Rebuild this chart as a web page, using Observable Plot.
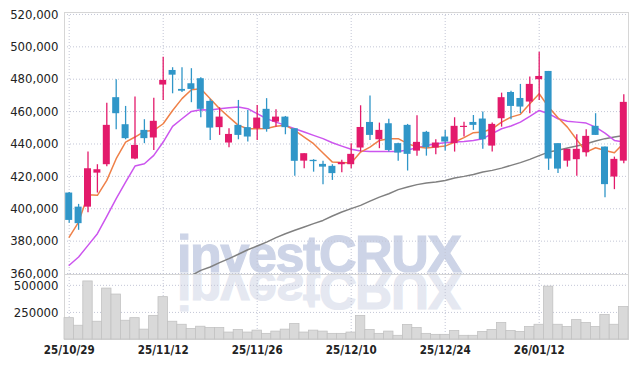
<!DOCTYPE html>
<html>
<head>
<meta charset="utf-8">
<script src="https://cdn.jsdelivr.net/npm/d3@7"></script>
<script src="https://cdn.jsdelivr.net/npm/@observablehq/plot@0.6"></script>
<style>
  html, body { margin: 0; padding: 0; background: #ffffff; }
  #wrap { position: relative; width: 638px; height: 368px; overflow: hidden; background: #ffffff; }
  #wrap > svg, #wrap > div { position: absolute; left: 0; }
  #wm { top: 0; }
  #price { top: 0; }
  #vol { top: 274px; }
  .wmtext { font-family: "Liberation Sans", Arial, sans-serif; font-weight: bold; font-size: 52px; letter-spacing: -1.4px; stroke-width: 1.2px; }
  #vol g[aria-label="x-axis tick label"] text, #vol g[aria-label="x-axis"] text { font-weight: bold; font-size: 11.5px; }
</style>
</head>
<body>
<div id="wrap">
  <svg id="wm" width="638" height="368">
    <text class="wmtext" x="177" y="272" fill="#cdd4e7" stroke="#cdd4e7">investCRUX</text>
    <text class="wmtext" x="177" y="272" fill="#e5e8f1" stroke="#e5e8f1" transform="translate(0,545) scale(1,-1)">investCRUX</text>
  </svg>
  <div id="price"></div>
  <div id="vol"></div>
</div>
<script>
const dates = [
  "25/10/29","25/10/30","25/10/31","25/11/03","25/11/04","25/11/05","25/11/06","25/11/07","25/11/10","25/11/11",
  "25/11/12","25/11/13","25/11/14","25/11/17","25/11/18","25/11/19","25/11/20","25/11/21","25/11/24","25/11/25",
  "25/11/26","25/11/27","25/11/28","25/12/01","25/12/02","25/12/03","25/12/04","25/12/05","25/12/08","25/12/09",
  "25/12/10","25/12/11","25/12/12","25/12/15","25/12/16","25/12/17","25/12/18","25/12/19","25/12/22","25/12/23",
  "25/12/24","25/12/26","25/12/29","25/12/30","26/01/02","26/01/05","26/01/06","26/01/07","26/01/08","26/01/09",
  "26/01/12","26/01/13","26/01/14","26/01/15","26/01/16","26/01/19","26/01/20","26/01/21","26/01/22","26/01/23"
];
const open = [
  409700,401000,401000,422000,427200,468600,451900,430700,448400,443700,
  476400,485400,473700,477200,480300,466300,450100,440600,451500,450100,
  449400,461400,453500,456600,449400,429400,429900,427400,426200,427200,
  427200,437500,453300,442600,452500,440200,451500,435600,447200,437500,
  444300,440200,450200,453300,455400,438700,455600,471800,468100,465900,
  479700,484800,440200,429400,430300,434600,450900,438100,419600,429400
];
const high = [
  410000,402700,435000,427200,465200,479700,463200,469000,455000,468300,
  493600,487100,487100,486500,480900,467500,462400,449400,466900,460700,
  463800,468000,461200,457000,449400,434000,430300,429300,427200,429900,
  440200,463600,469600,452900,455200,440500,452100,457500,447800,442600,
  448400,456200,453500,457600,459700,452900,471400,472600,476800,481300,
  496700,484800,440200,436700,445700,448800,458700,438100,431900,470400
];
const low = [
  391000,386700,397600,409700,426000,448800,442600,430300,440200,436000,
  466900,471000,471800,465500,456200,442200,445300,437700,442600,441200,
  442200,447300,450400,445700,420000,424700,422600,414900,417500,422300,
  424700,435000,442200,437100,435000,429400,423300,432500,432500,433400,
  435600,435000,444300,448400,436700,435000,450400,455000,458700,458700,
  466900,423700,421700,425700,420000,431900,445300,406800,411800,427800
];
const close = [
  392800,390800,424700,424100,451500,458700,443300,439100,443300,454000,
  479300,482500,472600,473700,461400,449800,456600,445900,445300,444300,
  456000,449000,456600,450100,429300,434000,429100,425700,421700,428500,
  433600,450200,445300,448400,436000,434400,433600,441000,437700,440600,
  441200,450900,450900,451500,442600,452100,468600,463200,462800,476800,
  481700,430700,424500,436700,436700,444700,445300,414900,430500,465700
];
const volume = [
  197000,127000,536000,164000,470000,415000,173000,197000,91000,218000,
  391000,164000,136000,97000,118000,106000,106000,64000,88000,64000,
  82000,52000,73000,91000,143000,64000,82000,73000,52000,52000,
  64000,218000,88000,52000,73000,34000,134000,106000,52000,43000,
  43000,79000,34000,34000,70000,88000,152000,79000,70000,115000,
  136000,488000,136000,115000,179000,152000,115000,227000,136000,300000
];
const ma5 = [
  382500,391800,408700,408300,417500,430900,441200,444300,447800,448400,
  452500,460700,468000,473500,474100,468000,461800,456600,451500,449400,
  449400,449600,451000,451500,448400,444300,440200,434400,428800,428500,
  428200,435000,438100,442200,443300,443300,440200,438100,437500,438100,
  438700,441200,443900,447000,447400,449400,453500,456600,458300,464900,
  471000,462800,456200,450400,442600,435000,437700,436000,434600,440600
];
const ma10 = [
  365100,370200,377400,384600,395300,406200,416500,426400,427800,433000,
  441200,450900,455600,460100,461200,461000,461800,462400,462800,461800,
  458700,455600,453500,451500,449400,447400,445300,443300,440800,438700,
  436700,435600,435400,435300,435400,435400,436300,437700,439100,440200,
  440800,441200,441600,442200,443300,446400,449400,451100,453500,457000,
  460700,458700,455600,454100,453500,452900,450400,446700,442200,441200
];
const ma60 = [
  null,null,null,null,null,null,null,null,null,null,
  null,null,null,358800,361950,364000,366700,369200,371900,374700,
  377000,379400,382200,384600,386700,388700,390800,392800,395500,398000,
  400100,402100,404700,407200,409300,411800,413400,414900,415900,416500,
  417500,419000,420000,421200,422700,423700,425100,426800,428500,430500,
  432800,435000,436100,437500,438700,440200,441800,443300,444300,445300
];
const priceTicks = [360000,380000,400000,420000,440000,460000,480000,500000,520000];
const volumeTicks = [250000,500000];
const dateTicks = ["25/10/29","25/11/12","25/11/26","25/12/10","25/12/24","26/01/12"];

const UP = "#e31a6b", DOWN = "#3096c8";
const rows = dates.map((d, i) => ({
  d, o: open[i], h: high[i], l: low[i], c: close[i], v: volume[i],
  m5: ma5[i], m10: ma10[i], m60: ma60[i]
}));
const candleColor = r => r.c >= r.o ? UP : DOWN;
const FONT = '"DejaVu Sans Condensed", "Liberation Sans Narrow", "DejaVu Sans", sans-serif';
const GRID = "#c3c6d6";

const price = Plot.plot({
  width: 638, height: 274,
  marginTop: 12, marginBottom: 0, marginLeft: 64, marginRight: 10,
  style: {background: "transparent", overflow: "visible", fontFamily: FONT, fontSize: "13px", color: "#222"},
  x: {type: "band", domain: dates, padding: 0, round: false, axis: null},
  y: {domain: [359400, 521200], ticks: priceTicks, tickSize: 0, tickPadding: 6,
      tickFormat: d3.format(","), label: null},
  marks: [
    Plot.ruleY(priceTicks, {stroke: GRID, strokeDasharray: "1,2"}),
    Plot.ruleX(dateTicks, {stroke: GRID, strokeDasharray: "1,2"}),
    Plot.frame({stroke: "#d6d6d6"}),
    Plot.line(rows.filter(r => r.m60 != null), {x: "d", y: "m60", stroke: "#808080", strokeWidth: 1.5, clip: true}),
    Plot.line(rows, {x: "d", y: "m10", stroke: "#cc55ee", strokeWidth: 1.5}),
    Plot.line(rows, {x: "d", y: "m5", stroke: "#ef8048", strokeWidth: 1.5}),
    Plot.ruleX(rows, {x: "d", y1: "l", y2: "h", stroke: candleColor, strokeWidth: 1.3}),
    Plot.barY(rows, {x: "d", y1: "o", y2: "c", fill: candleColor, insetLeft: 1.2, insetRight: 1.2})
  ]
});
document.getElementById("price").appendChild(price);

const vol = Plot.plot({
  width: 638, height: 94,
  marginTop: 0, marginBottom: 29, marginLeft: 64, marginRight: 10,
  style: {background: "transparent", overflow: "visible", fontFamily: FONT, fontSize: "13px", color: "#222"},
  x: {type: "band", domain: dates, padding: 0, round: false, tickSize: 0, tickPadding: 6, label: null,
      tickFormat: d => dateTicks.includes(d) ? d : ""},
  y: {domain: [0, 600000], ticks: volumeTicks, tickSize: 0, tickPadding: 6,
      tickFormat: d3.format("d"), label: null},
  marks: [
    Plot.ruleY(volumeTicks, {stroke: GRID, strokeDasharray: "1,2"}),
    Plot.ruleX(dateTicks, {stroke: GRID, strokeDasharray: "1,2"}),
    Plot.frame({stroke: "#d6d6d6"}),
    Plot.barY(rows, {x: "d", y: "v", fill: "#d9d9d9", stroke: "#c2c2c2", strokeWidth: 0.8})
  ]
});
// bold date labels like the reference
vol.querySelectorAll("g[aria-label='x-axis'] text, g[aria-label='x-axis tick label'] text").forEach(t => {
  t.style.fontWeight = "bold";
  t.style.fontSize = "11.5px";
});
document.getElementById("vol").appendChild(vol);
</script>
</body>
</html>
